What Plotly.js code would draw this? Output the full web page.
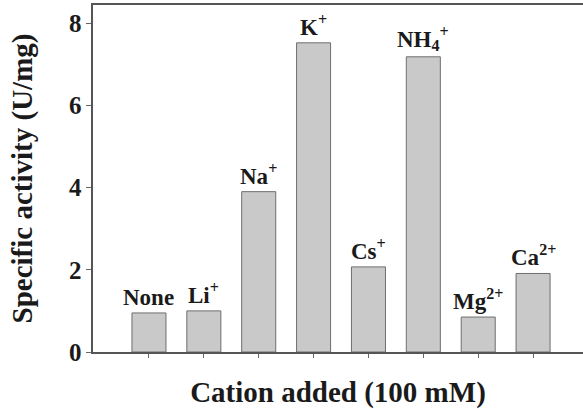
<!DOCTYPE html>
<html>
<head>
<meta charset="utf-8">
<script src="https://cdn.plot.ly/plotly-3.0.1.min.js"></script>
<style>
  html, body { margin: 0; padding: 0; background: #fff; }
  #chart { width: 583px; height: 409px; }
</style>
</head>
<body>
<div id="chart"></div>
<script>
// Cation added to the assay and the measured specific activity (U/mg)
const cations = ["None", "Li<sup>+</sup>", "Na<sup>+</sup>", "K<sup>+</sup>",
                 "Cs<sup>+</sup>", "NH<sub>4</sub><sup>+</sup>", "Mg<sup>2+</sup>", "Ca<sup>2+</sup>"];
const activity = [0.95, 1.0, 3.9, 7.52, 2.07, 7.18, 0.85, 1.91];
const yTicks = [0, 2, 4, 6, 8];

const positions = cations.map((_, i) => i);
const serif = "Liberation Serif, Times New Roman, serif";
const ink = "#1a1a1a";

const trace = {
  type: "bar",
  x: positions,
  y: activity,
  width: 0.62,
  marker: { color: "#c9c9c9", line: { color: "#6e6e6e", width: 1 } },
  hoverinfo: "skip"
};

// Cation name written just above each bar
const labels = positions.map((x, i) => ({
  x: x,
  y: activity[i],
  xref: "x",
  yref: "y",
  text: "<b>" + cations[i] + "</b>",
  showarrow: false,
  yanchor: "bottom",
  xanchor: "center",
  yshift: 1,
  font: { family: serif, size: 23, color: ink }
}));

const layout = {
  width: 583,
  height: 409,
  margin: { l: 93, r: 0, t: 5, b: 57 },
  paper_bgcolor: "#fff",
  plot_bgcolor: "#fff",
  showlegend: false,
  font: { family: serif, color: ink },
  annotations: labels,
  xaxis: {
    range: [-1.02, 7.91],
    tickvals: positions,
    showticklabels: false,
    ticks: "outside",
    ticklen: 4,
    tickwidth: 1,
    tickcolor: "#666",
    showline: true,
    linecolor: "#555",
    linewidth: 1.6,
    mirror: true,
    showgrid: false,
    zeroline: false,
    title: {
      text: "<b>Cation added (100 mM)</b>",
      font: { family: serif, size: 29, color: ink },
      standoff: 26
    }
  },
  yaxis: {
    range: [0, 8.44],
    tickvals: yTicks,
    ticktext: yTicks.map(v => "<b>" + v + "</b>"),
    tickfont: { family: serif, size: 25, color: ink },
    ticks: "outside",
    ticklen: 5,
    tickwidth: 1,
    tickcolor: "#666",
    showline: true,
    linecolor: "#555",
    linewidth: 1.6,
    showgrid: false,
    zeroline: false,
    title: {
      text: "<b>Specific activity (U/mg)</b>",
      font: { family: serif, size: 29, color: ink },
      standoff: 28
    }
  }
};

Plotly.newPlot("chart", [trace], layout, { displayModeBar: false, staticPlot: true });
</script>
</body>
</html>
